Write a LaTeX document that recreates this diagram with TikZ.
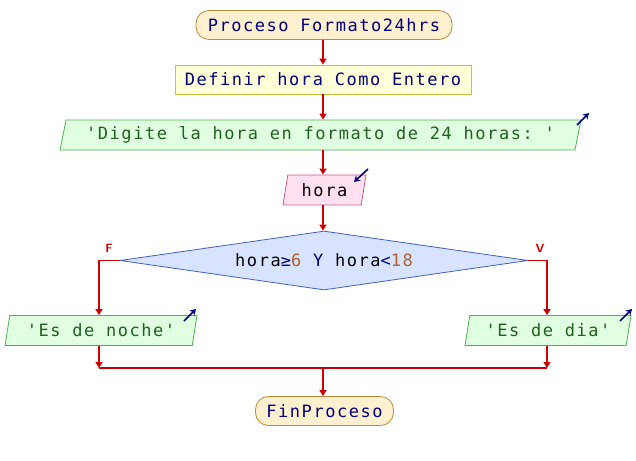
\documentclass[tikz,border=0pt]{standalone}
\usepackage{fontspec}
\setmonofont[LetterSpace=9]{DejaVu Sans Mono}
\usetikzlibrary{shapes.geometric,arrows.meta}
\definecolor{kw}{HTML}{000080}
\definecolor{str}{HTML}{206020}
\definecolor{num}{HTML}{B06030}
\definecolor{flow}{HTML}{CC0000}
\definecolor{termfill}{HTML}{FFF0D0}
\definecolor{termdraw}{HTML}{C08838}
\definecolor{deffill}{HTML}{FFFFD8}
\definecolor{defdraw}{HTML}{C8C040}
\definecolor{outfill}{HTML}{E0FFE0}
\definecolor{outdraw}{HTML}{50B050}
\definecolor{infill}{HTML}{FFE0F0}
\definecolor{indraw}{HTML}{C06090}
\definecolor{decfill}{HTML}{D8E4FF}
\definecolor{decdraw}{HTML}{4060C0}
\begin{document}
\begin{tikzpicture}[x=1pt,y=-1pt,
  every node/.style={font=\ttfamily\fontsize{17}{17}\selectfont, inner sep=0pt},
  term/.style={draw=termdraw, fill=termfill, rounded corners=13pt, minimum height=29pt, line width=0.8pt, text=kw},
  defbox/.style={draw=defdraw, fill=deffill, minimum height=29pt, line width=0.8pt, text=kw},
  para/.style={shape=trapezium, trapezium left angle=70, trapezium right angle=110, trapezium stretches body, minimum height=30pt, line width=0.8pt},
  outbox/.style={para, draw=outdraw, fill=outfill, text=str},
  inbox/.style={para, draw=indraw, fill=infill, text=black},
  decbox/.style={shape=diamond, draw=decdraw, fill=decfill, line width=0.8pt, aspect=7},
  flowline/.style={draw=flow, line width=1.6pt},
  flowarrow/.style={flowline, -{Triangle[width=7pt,length=6pt]}},
  ioarrow/.style={draw=kw, line width=1.6pt, -{Stealth[width=7pt,length=6pt]}},
  lbl/.style={text=flow, font=\sffamily\bfseries\fontsize{12}{12}\selectfont}
]
\useasboundingbox (0,0) rectangle (636,460);

\node[term, minimum width=256pt] (start) at (324,25) {Proceso Formato24hrs};
\node[defbox, minimum width=296pt] (def) at (323,79.5) {Definir hora Como Entero};
\node[outbox, minimum width=521pt] (out1) at (320.5,135) {'Digite la hora en formato de 24 horas: '};
\node[inbox, minimum width=83pt] (in1) at (324.5,190) {hora};
\node[decbox, minimum width=408pt, minimum height=59pt] (dec) at (324,260.5) {hora{\color{kw}≥}{\color{num}6} {\color{kw}Y} hora{\color{kw}<}{\color{num}18}};
\node[outbox, minimum width=192pt] (noche) at (101,330.5) {'Es de noche'};
\node[outbox, minimum width=166pt] (dia) at (548,330.5) {'Es de dia'};
\node[term, minimum width=138pt] (fin) at (324.5,411) {FinProceso};

\coordinate (fl) at (99,260.5);
\coordinate (fr) at (547,260.5);
\coordinate (ml) at (99,368);
\coordinate (mr) at (547,368);
\coordinate (mc) at (323,368);

\draw[flowarrow] (start.south -| def) -- (def.north);
\draw[flowarrow] (def) -- (def |- out1.north);
\draw[flowarrow] (out1.south -| def) -- (def |- in1.north);
\draw[flowarrow] (in1.south -| def) -- (def |- dec.north);
\draw[flowarrow] (dec.west) -- (fl) -- (fl |- noche.north);
\draw[flowarrow] (dec.east) -- (fr) -- (fr |- dia.north);
\draw[flowarrow] (noche.south -| ml) -- (ml);
\draw[flowarrow] (dia.south -| mr) -- (mr);
\draw[flowline] (ml) -- (mr);
\draw[flowarrow] (mc) -- (mc |- fin.north);

\node[lbl] (F) at (109,248) {F};
\node[lbl] (V) at (540,248) {V};

\coordinate (a1s) at (577,125);
\coordinate (a1e) at (589,113);
\draw[ioarrow] (a1s) -- (a1e);
\coordinate (a2s) at (368,169);
\coordinate (a2e) at (354,182);
\draw[ioarrow] (a2s) -- (a2e);
\coordinate (a3s) at (184,321);
\coordinate (a3e) at (196,309);
\draw[ioarrow] (a3s) -- (a3e);
\coordinate (a4s) at (620,321);
\coordinate (a4e) at (632,309);
\draw[ioarrow] (a4s) -- (a4e);
\end{tikzpicture}
\end{document}
